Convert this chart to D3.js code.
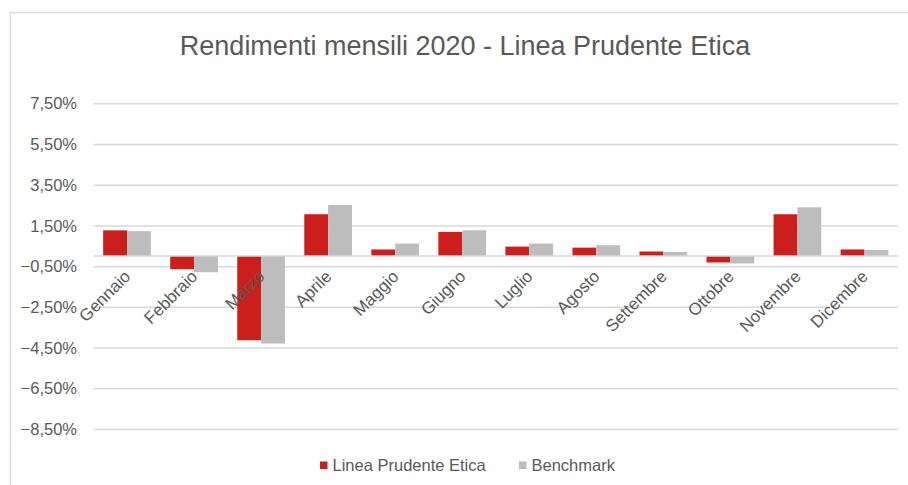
<!DOCTYPE html>
<html>
<head>
<meta charset="utf-8">
<script src="https://cdn.jsdelivr.net/npm/d3@7"></script>
<style>
  html, body { margin: 0; padding: 0; background: #fff; }
  svg { display: block; font-family: "Liberation Sans", Arial, sans-serif; }
</style>
</head>
<body>
<svg id="chart" width="908" height="485"></svg>
<script>
// Monthly returns 2020 (%)
const months = ["Gennaio", "Febbraio", "Marzo", "Aprile", "Maggio", "Giugno",
  "Luglio", "Agosto", "Settembre", "Ottobre", "Novembre", "Dicembre"];
const linea = [1.26, -0.65, -4.14, 2.05, 0.32, 1.18, 0.46, 0.41, 0.22, -0.32, 2.05, 0.32];
const benchmark = [1.22, -0.80, -4.30, 2.51, 0.61, 1.26, 0.61, 0.53, 0.20, -0.37, 2.39, 0.30];
const seriesNames = ["Linea Prudente Etica", "Benchmark"];
const yTicks = [-8.5, -6.5, -4.5, -2.5, -0.5, 1.5, 3.5, 5.5, 7.5];

const colors = { "Linea Prudente Etica": "#cc1f1b", "Benchmark": "#bdbdbd" };
const textColor = "#595959";
const gridColor = "#d9d9d9";

const svg = d3.select("#chart");
const W = 908, H = 485;
const plot = { left: 93.5, right: 898, top: 103.3, bottom: 429 };

svg.append("rect").attr("width", W).attr("height", H).attr("fill", "#fff");

// chart frame (top and left edges)
svg.append("path")
  .attr("d", `M10.5,${H} V12.5 H${W}`)
  .attr("fill", "none").attr("stroke", "#dcdcdc").attr("stroke-width", 1.5);

const y = d3.scaleLinear().domain([-8.5, 7.5]).range([plot.bottom, plot.top]);
const x = d3.scaleBand().domain(months).range([plot.left, plot.right])
  .paddingInner(0.288).paddingOuter(0.144);
const xs = d3.scaleBand().domain(seriesNames).range([0, x.bandwidth()]);

const it = d3.formatLocale({ decimal: ",", thousands: ".", grouping: [3], currency: ["€", ""] });
const fmt = d => it.format(".2f")(d) + "%";

// y axis with gridlines
const yAxis = d3.axisLeft(y).tickValues(yTicks).tickFormat(fmt)
  .tickSize(-(plot.right - plot.left)).tickPadding(16);
const gy = svg.append("g").attr("transform", `translate(${plot.left},0)`).call(yAxis);
gy.select(".domain").remove();
gy.selectAll(".tick line").attr("stroke", gridColor).attr("stroke-width", 1.5);
gy.selectAll(".tick text").attr("fill", textColor).attr("font-size", 16.5)
  .attr("x", -16.5).attr("dy", "0.34em");

// bars
const rows = months.map((m, i) => ({ month: m, values: [
  { key: seriesNames[0], v: linea[i] },
  { key: seriesNames[1], v: benchmark[i] }
] }));

const groups = svg.append("g").selectAll("g").data(rows).join("g")
  .attr("transform", d => `translate(${x(d.month)},0)`);
groups.selectAll("rect").data(d => d.values).join("rect")
  .attr("x", d => xs(d.key))
  .attr("width", xs.bandwidth())
  .attr("y", d => y(Math.max(0, d.v)))
  .attr("height", d => Math.abs(y(d.v) - y(0)))
  .attr("fill", d => colors[d.key]);

// zero baseline
svg.append("line")
  .attr("x1", plot.left).attr("x2", plot.right)
  .attr("y1", y(0)).attr("y2", y(0))
  .attr("stroke", gridColor).attr("stroke-width", 1.5);

// category labels, rotated
svg.append("g").selectAll("text").data(months).join("text")
  .attr("transform", d => `translate(${x(d) + x.bandwidth() / 2 + 4.5},${y(0) + 21.5}) rotate(-45)`)
  .attr("text-anchor", "end")
  .attr("fill", textColor).attr("font-size", 17)
  .text(d => d);

// title
svg.append("text")
  .attr("x", 465).attr("y", 55)
  .attr("text-anchor", "middle")
  .attr("fill", textColor).attr("font-size", 27)
  .text("Rendimenti mensili 2020 - Linea Prudente Etica");

// legend
const legend = svg.append("g");
const legendItems = [
  { key: seriesNames[0], x: 320 },
  { key: seriesNames[1], x: 519 }
];
legendItems.forEach(l => {
  legend.append("rect").attr("x", l.x).attr("y", 461.5).attr("width", 7.5).attr("height", 7.5)
    .attr("fill", colors[l.key]);
  legend.append("text").attr("x", l.x + 12.5).attr("y", 471)
    .attr("fill", textColor).attr("font-size", 16.5).text(l.key);
});
</script>
</body>
</html>
